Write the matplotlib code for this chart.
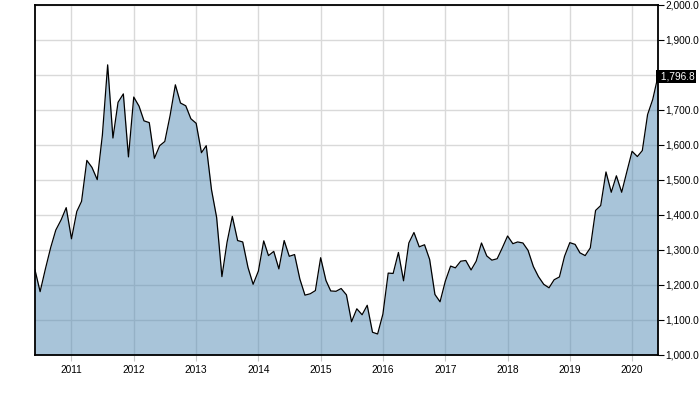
import matplotlib
matplotlib.use("Agg")
import matplotlib.pyplot as plt
import matplotlib.dates as mdates
import matplotlib.ticker as mticker
from matplotlib import font_manager
import pandas as pd

# monthly closes, Jun 2010 .. Jun 2020
prices_2010 = [1243, 1181, 1246, 1307, 1357, 1386, 1421]
prices_2011 = [1332, 1410, 1439, 1556, 1536, 1501, 1628, 1829, 1620, 1722, 1746, 1566]
prices_2012 = [1737, 1711, 1669, 1664, 1562, 1598, 1610, 1684, 1772, 1720, 1712, 1675]
prices_2013 = [1662, 1578, 1598, 1472, 1393, 1224, 1322, 1396, 1327, 1323, 1250, 1202]
prices_2014 = [1240, 1326, 1284, 1296, 1246, 1327, 1282, 1287, 1217, 1171, 1175, 1184]
prices_2015 = [1278, 1213, 1183, 1182, 1190, 1172, 1095, 1132, 1115, 1142, 1065, 1060]
prices_2016 = [1117, 1234, 1233, 1293, 1212, 1320, 1350, 1309, 1315, 1273, 1173, 1152]
prices_2017 = [1211, 1254, 1249, 1268, 1270, 1243, 1268, 1320, 1283, 1271, 1275, 1306]
prices_2018 = [1340, 1318, 1323, 1320, 1299, 1253, 1224, 1202, 1192, 1215, 1223, 1282]
prices_2019 = [1321, 1316, 1292, 1284, 1306, 1413, 1427, 1523, 1465, 1512, 1465, 1523]
prices_2020 = [1582, 1567, 1584, 1687, 1730, 1796.8]

prices = (prices_2010 + prices_2011 + prices_2012 + prices_2013 + prices_2014
          + prices_2015 + prices_2016 + prices_2017 + prices_2018 + prices_2019
          + prices_2020)
dates = pd.date_range("2010-06-01", periods=len(prices), freq="MS")
last_value = prices[-1]

# narrow font if there is one
names = {f.name for f in font_manager.fontManager.ttflist}
if "Liberation Sans Narrow" in names:
    font = ["Liberation Sans Narrow", "DejaVu Sans"]
    fsize = 8.8
else:
    font = ["Liberation Sans", "DejaVu Sans"]
    fsize = 7.3

fig = plt.figure(figsize=(7, 3.96), dpi=100)
ax = fig.add_axes([35 / 700, 41 / 396, 623 / 700, 350 / 396])

ax.grid(True, color="#d9d9d9", linewidth=1)
ax.set_axisbelow(True)
ax.fill_between(dates, prices, 1000, color="#538bb5", alpha=0.5, linewidth=0)
ax.plot(dates, prices, color="black", linewidth=0.9)

ax.set_xlim(dates[0], dates[-1])
ax.set_ylim(1000, 2000)

ax.xaxis.set_major_locator(mdates.YearLocator())
ax.xaxis.set_major_formatter(mdates.DateFormatter("%Y"))
ax.yaxis.set_major_locator(mticker.MultipleLocator(100))
ax.yaxis.set_major_formatter(
    mticker.FuncFormatter(lambda v, p: "" if abs(v - 1800) < 1 else f"{v:,.1f}"))
ax.yaxis.tick_right()

for lab in ax.get_xticklabels() + ax.get_yticklabels():
    lab.set_family(font)
    lab.set_fontsize(fsize)
ax.tick_params(axis="x", length=4, color="#c8c8c8", pad=3)
ax.tick_params(axis="y", length=4, color="black", pad=1)

for spine in ax.spines.values():
    spine.set_linewidth(1.3)
    spine.set_color("black")

# current value marker on the right axis
ax.text(1.0, last_value, f" {last_value:,.1f}", transform=ax.get_yaxis_transform(),
        ha="left", va="center", color="white", fontsize=fsize, family=font,
        bbox=dict(boxstyle="square,pad=0.15", facecolor="black", edgecolor="none"))

fig.savefig("out.png", dpi=100)
